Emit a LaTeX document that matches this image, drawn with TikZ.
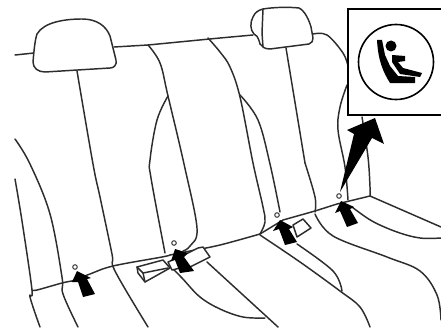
\documentclass[tikz,border=0pt]{standalone}
\usetikzlibrary{calc}
\definecolor{seatline}{RGB}{45,45,45}
\newcommand{\seatcurve}[1]{\draw[seat] plot[smooth, tension=0.6] coordinates {#1};}
\newcommand{\anchorpin}[2]{\draw[pin] (#1,#2) circle (2.3);}
\tikzset{
  seat/.style={seatline, line width=1.1pt, line cap=round, line join=round},
  pin/.style={seatline, line width=0.7pt, fill=white},
  block/.style={fill=black, draw=none},
  buckle/.style={seat, fill=white},
}

\begin{document}
\begin{tikzpicture}[x=0.75pt,y=-0.75pt]
  \useasboundingbox (0,0) rectangle (441,328);
  \fill[white] (0,0) rectangle (441,328);
  % top edge of the bench
  \draw[seat] (15,55) -- (34,53);
  \draw[seat] (114,47) -- (148,45) -- (220,38) -- (253,35);
  \seatcurve{(313,34) (327,35) (343,53) (348,66)}
  % left headrest
  \draw[seat, fill=white] (33,62) .. controls (34,50) and (35,40) .. (37,34)
    .. controls (44,22) and (65,19) .. (82,19)
    .. controls (97,19) and (106,26) .. (110,36)
    -- (116,60) .. controls (117,65) and (114,68) .. (110,68)
    -- (45,72) .. controls (38,72) and (33,68) .. (33,62) -- cycle;
  % right headrest
  \draw[seat, fill=white] (263,9) .. controls (275,7) and (290,7) .. (299,8)
    .. controls (305,11) and (309,20) .. (311,27)
    -- (313,38) .. controls (313,41) and (312,43) .. (309,44)
    -- (270,49) .. controls (265,49) and (262,47) .. (260,44)
    .. controls (258,36) and (256,35) .. (254,34)
    .. controls (250,30) and (250,22) .. (253,17)
    .. controls (255,12) and (259,10) .. (263,9) -- cycle;
  \draw[seat] (263,9) -- (262,33) -- (263,47);
  % seat back seams
  \seatcurve{(15,139) (30,164) (50,214) (62,277) (63,294) (78,327)}
  \seatcurve{(15,179) (22,221) (32,290) (30,297) (40,327)}
  \seatcurve{(77,71) (93,164) (100,197) (112,254) (115,271) (148,327)}
  \seatcurve{(148,45) (160,63) (168,96) (184,164) (197,228) (190,246) (183,251)}
  \seatcurve{(168,96) (157,120) (150,160) (151,178) (165,253)}
  \seatcurve{(208,38) (220,52) (230,67) (240,97) (253,163) (263,207) (265,222) (260,234)}
  \seatcurve{(240,95) (258,120) (270,164) (280,212)}
  \draw[seat] (286,48) -- (305,163);
  \seatcurve{(305,163) (315,197) (315,212)}
  \seatcurve{(347,85) (340,107) (338,130) (345,167) (348,200)}
  \seatcurve{(362,117) (368,157) (370,187) (370,196)}
  % crease between back and cushion
  \seatcurve{(32,290) (37,290) (62,283) (72,281)}
  \seatcurve{(72,281) (90,274) (113,266) (162,257) (170,255)}
  \seatcurve{(170,255) (190,251) (220,245) (260,234)}
  \draw[seat] (260,234) -- (283,220) -- (315,211) -- (337,204) -- (370,196) -- (441,227);
  % cushion seams
  \seatcurve{(352,207) (372,221) (397,232) (420,238) (441,238)}
  \seatcurve{(315,214) (333,236) (387,257) (420,271) (437,295) (441,320)}
  \seatcurve{(260,235) (300,262) (340,291) (360,307) (370,327)}
  \seatcurve{(297,244) (333,271) (342,291)}
  \draw[seat] (207,262) -- (278,327);
  \seatcurve{(172,268) (182,278) (200,297) (220,309) (243,317) (265,318)}
  % buckles
  \draw[buckle] (178,258) -- (198,248) -- (203,247) -- (210,257) -- (190,267) -- cycle;
  \draw[buckle] (137,267) -- (163,260) -- (170,268) -- (145,282) -- (138,273) -- cycle;
  \draw[seat] (137,267) -- (143,273) -- (168,268);
  \draw[seat] (143,273) -- (145,282);
  \draw[buckle] (168,262) -- (177,258) -- (180,268) -- (172,270) -- cycle;
  \draw[buckle] (293,225) -- (303,219) -- (311,228) -- (297,237) -- cycle;
  % anchor points
  \anchorpin{75}{267}
  \anchorpin{174}{243}
  \anchorpin{277}{215}
  \anchorpin{339}{196}
  % arrows at the anchors
  \fill[block] (77,271) -- (91,278) -- (87,279) -- (95,294) -- (83,297) -- (78,282) -- (72,282) -- cycle;
  \fill[block] (175,249) -- (188,253) -- (184,257) -- (194,271) -- (180,273) -- (175,260) -- (171,261) -- cycle;
  \fill[block] (280,220) -- (293,227) -- (289,229) -- (297,242) -- (285,245) -- (279,229) -- (273,231) -- cycle;
  \fill[block] (341,201) -- (354,207) -- (350,209) -- (358,223) -- (347,227) -- (340,211) -- (335,213) -- cycle;
  \fill[block] (375,118) -- (384,144) -- (372,138) -- (340,192) -- (354,134) -- (347,130) -- cycle;
  % symbol panel
  \draw[black, line width=1.6pt, fill=white] (443,9) -- (348,9) -- (348,115) -- (443,115);
  \draw[black, line width=1.2pt] (396,62) circle (37.5);
  \fill[black] (391,46) circle (5.5);
  \fill[black] (377,40) -- (382,40) -- (385,55) -- (390,66) -- (398,76) -- (415,77)
    -- (415,83) -- (390,83) .. controls (383,72) and (378,60) .. (377,40) -- cycle;
  \fill[black] (392,55) -- (405,56) -- (405,61) -- (398,62) -- (403,68) -- (422,73)
    -- (420,77) -- (400,74) -- (392,62) -- cycle;
\end{tikzpicture}
\end{document}
